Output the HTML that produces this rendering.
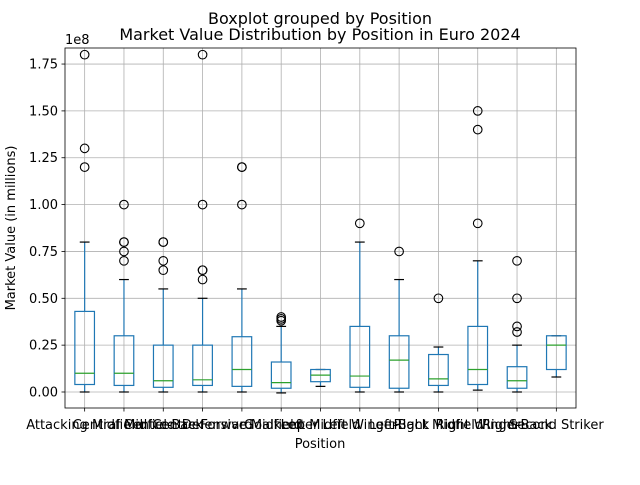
<!DOCTYPE html>
<html><head><meta charset="utf-8"><style>
body{margin:0;background:#fff;}
svg text{font-family:"DejaVu Sans","Liberation Sans",sans-serif;fill:#000;}
</style></head><body>
<svg id="chart" width="640" height="480" viewBox="0 0 640 480" xmlns="http://www.w3.org/2000/svg">
<rect width="640" height="480" fill="#fff"/>
<g id="grid"></g><g id="boxes"></g><g id="axes"></g>
</svg>
<script>
const categories=["Attacking Midfield","Central Midfield","Centre-Back","Centre-Forward","Defensive Midfield","Goalkeeper","Left Midfield","Left Winger","Left-Back","Right Midfield","Right Winger","Right-Back","Second Striker"];
const whiskerLow=[0.0,0.0,0.0,0.0,0.0,-0.005,0.03,0.0,0.0,0.0,0.01,0.0,0.08];
const q1=[0.04,0.035,0.025,0.035,0.03,0.02,0.055,0.025,0.02,0.035,0.04,0.02,0.12];
const medians=[0.10,0.10,0.06,0.065,0.12,0.05,0.09,0.085,0.17,0.07,0.12,0.06,0.25];
const q3=[0.43,0.30,0.25,0.25,0.295,0.16,0.12,0.35,0.30,0.20,0.35,0.135,0.30];
const whiskerHigh=[0.80,0.60,0.55,0.50,0.55,0.35,0.12,0.80,0.60,0.24,0.70,0.25,0.30];
const fliers=[[1.2,1.3,1.8],[0.7,0.75,0.8,0.8,1.0],[0.65,0.7,0.8,0.8],[0.6,0.65,0.65,1.0,1.8],[1.0,1.2,1.2],[0.38,0.39,0.40],[],[0.9],[0.75],[0.5],[0.9,1.4,1.5],[0.32,0.35,0.5,0.7],[]];
const yTicks=[0,0.25,0.5,0.75,1.0,1.25,1.5,1.75];
const yTickLabels=["0.00","0.25","0.50","0.75","1.00","1.25","1.50","1.75"];

const L=65,R=576,T=48,B=408;
const yMin=-0.0854,yMax=1.8356;
const y=v=>B-(v-yMin)/(yMax-yMin)*(B-T);
const n=categories.length;
const x=i=>L+(i+0.5)/n*(R-L);
const NS="http://www.w3.org/2000/svg";
function mk(tag,attrs,parent,text){const e=document.createElementNS(NS,tag);for(const k in attrs)e.setAttribute(k,attrs[k]);if(text!==undefined)e.textContent=text;parent.appendChild(e);return e;}
const grid=document.getElementById('grid'),boxes=document.getElementById('boxes'),axes=document.getElementById('axes');
yTicks.forEach((t,i)=>{
 const g=mk('line',{x1:L,x2:R,y1:y(t),y2:y(t),stroke:'#b0b0b0','stroke-width':0.8},grid);
 
 
 mk('line',{x1:L-3.5,x2:L,y1:y(t),y2:y(t),stroke:'#000','stroke-width':0.8},axes);
 const tl=mk('text',{x:L-7,y:y(t)+4.5,'text-anchor':'end','font-size':13},axes,yTickLabels[i]);
 
 
});
categories.forEach((c,i)=>{
 const cx=x(i);
 const g=mk('line',{x1:cx,x2:cx,y1:T,y2:B,stroke:'#b0b0b0','stroke-width':0.8},grid);
 
 
 mk('line',{x1:cx,x2:cx,y1:B,y2:B+3.5,stroke:'#000','stroke-width':0.8},axes);
 const tl=mk('text',{x:cx,y:B+21,'text-anchor':'middle','font-size':13},axes,c);
 
 
 const bg=mk('g',{},boxes);
 
 
 const hw=9.8,cw=4.9,blue='#1f77b4';
 mk('line',{x1:cx,x2:cx,y1:y(q1[i]),y2:y(whiskerLow[i]),stroke:blue,'stroke-width':1.2},bg);
 mk('line',{x1:cx,x2:cx,y1:y(q3[i]),y2:y(whiskerHigh[i]),stroke:blue,'stroke-width':1.2},bg);
 mk('line',{x1:cx-cw,x2:cx+cw,y1:y(whiskerLow[i]),y2:y(whiskerLow[i]),stroke:'#000','stroke-width':1.2},bg);
 mk('line',{x1:cx-cw,x2:cx+cw,y1:y(whiskerHigh[i]),y2:y(whiskerHigh[i]),stroke:'#000','stroke-width':1.2},bg);
 mk('rect',{x:cx-hw,y:y(q3[i]),width:2*hw,height:y(q1[i])-y(q3[i]),fill:'none',stroke:blue,'stroke-width':1.2},bg);
 mk('line',{x1:cx-hw,x2:cx+hw,y1:y(medians[i]),y2:y(medians[i]),stroke:'#2ca02c','stroke-width':1.2},bg);
 fliers[i].forEach(v=>{
  const f=mk('circle',{cx:cx,cy:y(v),r:4.3,fill:'none',stroke:'#000','stroke-width':1.1},bg);
  
  
 });
});
const fr=mk('rect',{x:L,y:T,width:R-L,height:B-T,fill:'none',stroke:'#000','stroke-width':0.8},axes);


const t1=mk('text',{x:320,y:24,'text-anchor':'middle','font-size':16},axes,'Boxplot grouped by Position');


const t2=mk('text',{x:320,y:40,'text-anchor':'middle','font-size':16},axes,'Market Value Distribution by Position in Euro 2024');


const off=mk('text',{x:65,y:44,'font-size':13},axes,'1e8');


const xl=mk('text',{x:320,y:448,'text-anchor':'middle','font-size':13},axes,'Position');


const yl=mk('text',{x:15,y:228,'text-anchor':'middle','font-size':13,transform:'rotate(-90 15 228)'},axes,'Market Value (in millions)');


</script>
</body></html>
